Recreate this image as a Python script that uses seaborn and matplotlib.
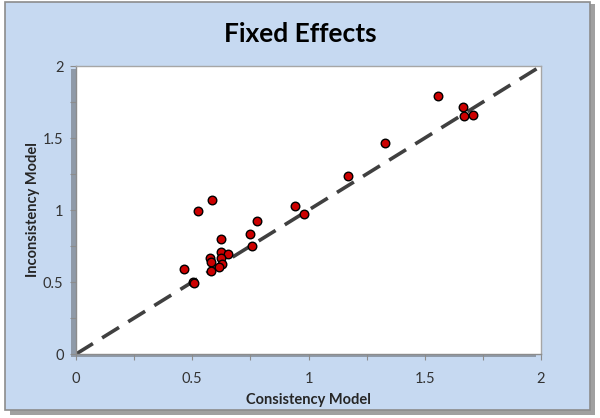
import matplotlib
matplotlib.use("Agg")
import matplotlib.pyplot as plt
import numpy as np
import pandas as pd
import seaborn as sb
from matplotlib.patches import Rectangle

# dados
consistencia = [0.584, 0.526, 0.778, 0.747, 0.756, 0.625, 0.625, 0.655, 0.576, 0.625,
                0.581, 0.627, 0.615, 0.582, 0.466, 0.505, 0.508, 1.170, 0.941, 0.979,
                1.557, 1.666, 1.669, 1.706, 1.328]
inconsistencia = [1.069, 0.993, 0.921, 0.833, 0.748, 0.799, 0.710, 0.694, 0.667, 0.667,
                  0.637, 0.627, 0.604, 0.576, 0.588, 0.500, 0.491, 1.234, 1.028, 0.970,
                  1.792, 1.713, 1.653, 1.662, 1.463]
diag_x = [0, 2]
diag_y = [0, 2]
ticks = [0, 0.5, 1, 1.5, 2]
tick_labels = ["0", "0.5", "1", "1.5", "2"]

df = pd.DataFrame({"consistencia": consistencia, "inconsistencia": inconsistencia})

sb.set_style("white")
plt.rcParams['font.family'] = ['Lato', 'DejaVu Sans']

fig = plt.figure(figsize=(6, 4.18), dpi=100)
fig.patch.set_facecolor("white")

# fundo azul com sombra
fig.add_artist(Rectangle((0.016, 0.008), 0.976, 0.982, transform=fig.transFigure,
                         facecolor="#a0a0a0", edgecolor="none", zorder=-3))
fig.add_artist(Rectangle((0.008, 0.018), 0.976, 0.978, transform=fig.transFigure,
                         facecolor="#c6d9f1", edgecolor="#8c8c8c", linewidth=1.2, zorder=-2))

# sombra da área do gráfico
fig.add_artist(Rectangle((0.119, 0.145), 0.775, 0.689, transform=fig.transFigure,
                         facecolor="#8f9aa8", edgecolor="none", zorder=-1))

ax = fig.add_axes([0.1267, 0.153, 0.775, 0.689])
ax.set_zorder(1)
ax.set_facecolor("white")

ax.plot(diag_x, diag_y, color="#404040", linewidth=2.6, dashes=(5.5, 3), zorder=2)
sb.scatterplot(data=df, x="consistencia", y="inconsistencia", ax=ax, color="#cc0000",
               edgecolor="black", linewidth=1, s=38, zorder=3, clip_on=False)

ax.set_xlim(0, 2)
ax.set_ylim(0, 2)
ax.set_xticks(ticks)
ax.set_xticklabels(tick_labels)
ax.set_yticks(ticks)
ax.set_yticklabels(tick_labels)
ax.set_xticks(np.arange(0, 2.01, 0.25), minor=True)
ax.set_yticks(np.arange(0, 2.01, 0.25), minor=True)
ax.tick_params(axis="both", which="both", direction="out", length=4, width=0.8,
               color="#8c8c8c", labelsize=10.5, labelcolor="#333333", pad=5,
               bottom=True, left=True)
ax.tick_params(axis="x", pad=9)

for lado in ax.spines.values():
    lado.set_color("#a6a6a6")
    lado.set_linewidth(1)
ax.spines["bottom"].set_color("#8c8c8c")
ax.spines["left"].set_color("#8c8c8c")

ax.set_xlabel("Consistency Model", fontsize=10.5, fontweight="bold", labelpad=5)
ax.set_ylabel("Inconsistency Model", fontsize=10.5, fontweight="bold", labelpad=2)
fig.text(0.5, 0.918, "Fixed Effects", ha="center", va="center",
         fontsize=19, fontweight="bold", color="black")

fig.savefig("out.png", dpi=100)
